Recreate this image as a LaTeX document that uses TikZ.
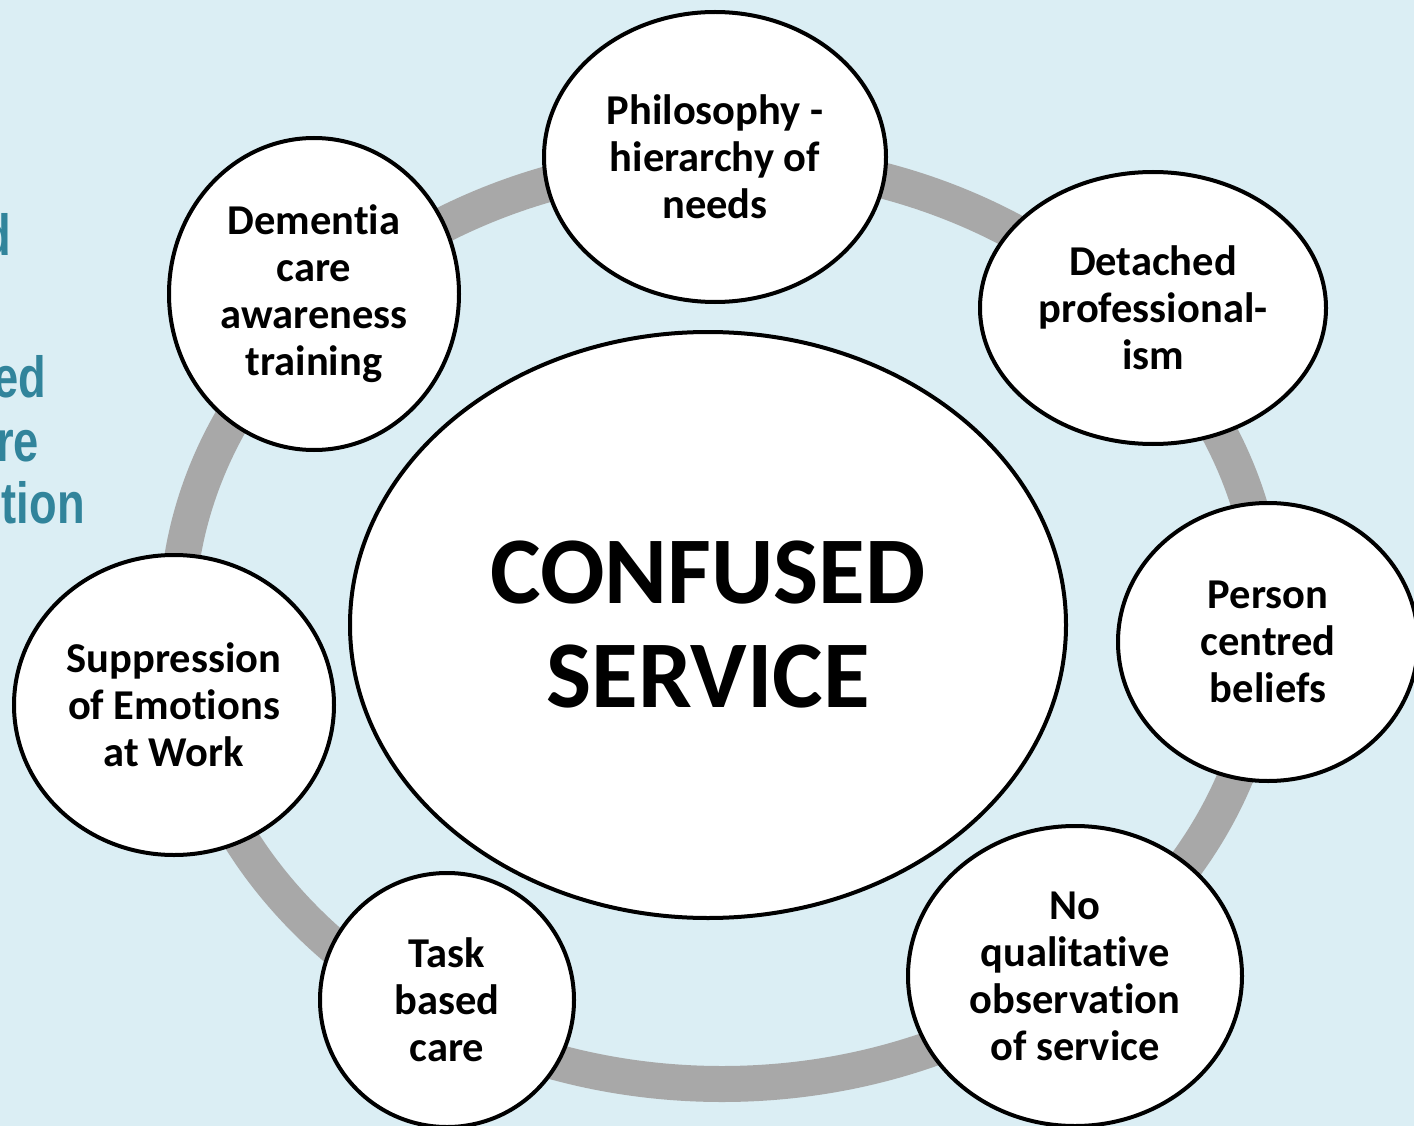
\documentclass[tikz,border=0pt]{standalone}
\usepackage{fontspec}
\setmainfont{Carlito}[Ligatures={NoCommon}]
\newfontfamily\titlefont{Liberation Sans}
\usetikzlibrary{shapes.geometric}
\definecolor{bgblue}{HTML}{DBEEF4}
\definecolor{teal}{HTML}{31849B}
\definecolor{ringgray}{HTML}{A8A8A8}
\tikzset{
  bubble/.style={ellipse, draw=black, line width=4pt, fill=white, inner sep=0pt,
    align=center, font=\fontsize{42.5}{47}\selectfont\bfseries},
  centre/.style={ellipse, draw=black, line width=4pt, fill=white, inner sep=0pt,
    align=center, font=\fontsize{95.5}{104}\selectfont\bfseries},
  sidetext/.style={anchor=base east, text=teal, inner sep=0pt,
    font=\fontsize{58}{64}\selectfont\titlefont\bfseries},
  ring/.style={draw=ringgray, line width=36pt}
}
\newcommand{\narrowtxt}[1]{\scalebox{0.78}[1]{#1}}
\begin{document}
\begin{tikzpicture}[x=1pt,y=-1pt]
\clip (0,0) rectangle (1414,1126);
\fill[bgblue] (0,0) rectangle (1414,1126);
\useasboundingbox (0,0) rectangle (1414,1126);
% clipped title text
\node[sidetext] (t1) at (11,255) {\narrowtxt{d}};
\node[sidetext] (t2) at (46,397) {\narrowtxt{ed}};
\node[sidetext] (t3) at (39,461) {\narrowtxt{re}};
\node[sidetext] (t4) at (85,523) {\narrowtxt{tion}};
% ring
\coordinate (rc) at (722,622);
\draw[ring] (rc) ellipse [x radius=545, y radius=462];
% centre
\node[centre, minimum width=716, minimum height=586] (c) at (708,625) {CONFUSED\\SERVICE};
% bubbles
\node[bubble, minimum width=342, minimum height=290] (phil) at (715,157) {Philosophy -\\hierarchy of\\needs};
\node[bubble, minimum width=346, minimum height=272] (det) at (1153,308) {Detached\\professional-\\ism};
\node[bubble, minimum width=300, minimum height=278] (pers) at (1268,642) {Person\\centred\\beliefs};
\node[bubble, minimum width=334, minimum height=300] (noq) at (1075,976) {No\\qualitative\\observation\\of service};
\node[bubble, minimum width=254, minimum height=254] (task) at (447,1000) {Task\\based\\care};
\node[bubble, minimum width=320, minimum height=300] (supp) at (174,705) {Suppression\\of Emotions\\at Work};
\node[bubble, minimum width=290, minimum height=312] (dem) at (314,294) {Dementia\\care\\awareness\\training};
\end{tikzpicture}
\end{document}
